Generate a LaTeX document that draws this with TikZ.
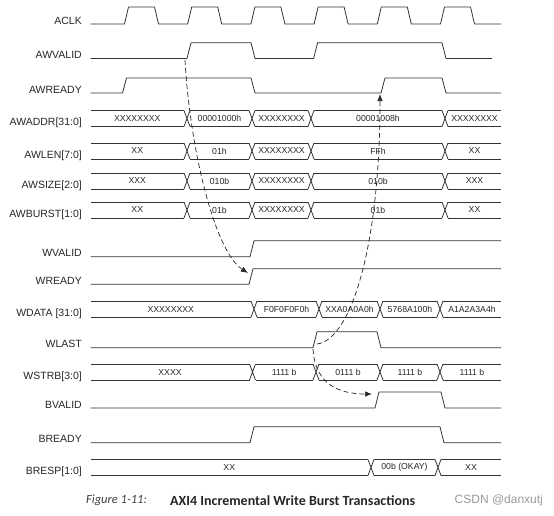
\documentclass[tikz,border=0pt]{standalone}
\usepackage{fontspec}
\setmainfont{Liberation Sans}
\newfontfamily\capfont{Carlito}
\usetikzlibrary{arrows.meta}
\begin{document}
\begin{tikzpicture}[
            x=1pt, y=-1pt,
            wave/.style={draw=black!80, line width=0.8pt, line join=round},
            sig/.style={anchor=east, inner sep=0pt, text=black!85, font=\fontsize{10.5}{12}\selectfont},
            val/.style={inner sep=0pt, text=black!85, font=\fontsize{8.7}{10}\selectfont},
            hand/.style={-{Latex[length=7pt,width=5.5pt]}, dash pattern=on 5pt off 3pt, line width=0.7pt, draw=black!85}
        ]
            \useasboundingbox (0,0) rectangle (554,515);

            % Signal names
            \foreach \n/\y/\t in {aclk/24/ACLK, awvalid/58.5/AWVALID, awready/93/AWREADY,
                awaddr/126.5/AWADDR[31:0], awlen/159/AWLEN[7:0], awsize/189/AWSIZE[2:0],
                awburst/218/AWBURST[1:0], wvalid/256.7/WVALID, wready/284.3/WREADY,
                wdata/317/WDATA [31:0], wlast/347.7/WLAST, wstrb/380/WSTRB[3:0],
                bvalid/408/BVALID, bready/442.7/BREADY, bresp/475.5/BRESP[1:0]}
                \node[sig] (lbl-\n) at (82,\y-3.5) {\t};

            % ACLK
            \draw[wave] (90.5,24) \foreach \k in {0,...,5} {
                -- ({124.5+63.2*\k},24) -- ({128.5+63.2*\k},7) -- ({154.5+63.2*\k},7) -- ({158.5+63.2*\k},24)} -- (501,24);

            % Write address handshake
            \draw[wave] (90.5,58.5) -- (187,58.5) -- (191,42.7) -- (251,42.7) -- (255,58.5) -- (313.6,58.5)
                -- (317.6,42.7) -- (442,42.7) -- (446,58.5) -- (491.8,58.5);
            \draw[wave] (90.5,93) -- (122.5,93) -- (126.5,78) -- (251,78) -- (255,93) -- (381,93)
                -- (385,78) -- (442,78) -- (446,93) -- (501,93);

            % Address channel buses
            \foreach \ty/\row/\segs in {110.5/awaddr/{87.5/187/XXXXXXXX, 187/252/00001000h, 252/311/XXXXXXXX, 311/445/00001008h, 445/504/XXXXXXXX},
                143/awlen/{87.5/187/XX, 187/252/01h, 252/311/XXXXXXXX, 311/445/FFh, 445/504/XX},
                173/awsize/{87.5/187/XXX, 187/252/010b, 252/311/XXXXXXXX, 311/445/010b, 445/504/XXX},
                202/awburst/{87.5/187/XX, 187/252/01b, 252/311/XXXXXXXX, 311/445/01b, 445/504/XX},
                301/wdata/{87.5/254/XXXXXXXX, 254/319/F0F0F0F0h, 319/380/XXA0A0A0h, 380/440/5768A100h, 440/504/A1A2A3A4h},
                364/wstrb/{87.5/252.5/XXXX, 252.5/316/1111 b, 316/380/0111 b, 380/440/1111 b, 440/504/1111 b},
                459.5/bresp/{87.5/371/XX, 371/438/00b (OKAY), 438/504/XX}}
            {
                \foreach \a/\b/\t [count=\i] in \segs {
                    \draw[wave] (\a+3,\ty) -- (\b-3,\ty) (\a+3,\ty+16) -- (\b-3,\ty+16);
                    \node[val] (\row-\i) at ({(\a+\b)/2},\ty+8) {\t};
                    \ifnum\i>1
                        \draw[wave] (\a-3,\ty) -- (\a+3,\ty+16) (\a-3,\ty+16) -- (\a+3,\ty);
                    \fi
                }
            }

            % Write data handshake
            \draw[wave] (90.5,256.7) -- (250,256.7) -- (254,240.7) -- (501,240.7);
            \draw[wave] (90.5,284.3) -- (249,284.3) -- (253,268.7) -- (501,268.7);
            \draw[wave] (90.5,347.7) -- (313,347.7) -- (317,331.8) -- (377,331.8) -- (381,347.7) -- (501,347.7);

            % Write response
            \draw[wave] (90.5,408) -- (375,408) -- (379,392) -- (441,392) -- (445,408) -- (501,408);
            \draw[wave] (90.5,442.7) -- (250,442.7) -- (254,426.7) -- (440,426.7) -- (444,442.7) -- (501,442.7);

            % Dependencies
            \coordinate (awv-rise) at (185,60);
            \coordinate (wr-rise) at (248,273);
            \coordinate (wl-rise) at (317,344);
            \coordinate (awr-rise) at (380,94);
            \coordinate (wl-low) at (313,349);
            \coordinate (bv-rise) at (372,394);
            \draw[hand] (awv-rise) .. controls (190,150) and (215,252) .. (wr-rise);
            \draw[hand] (wl-rise) .. controls (350,340) and (380,250) .. (awr-rise);
            \draw[hand] (wl-low) .. controls (315,385) and (340,394) .. (bv-rise);

            % Caption
            \node[anchor=west, inner sep=0pt, text=black!75, font=\capfont\itshape\fontsize{12.5}{14}\selectfont] (fig) at (86,500.5) {Figure 1-11:};
            \node[anchor=west, inner sep=0pt, text=black!85, font=\capfont\bfseries\fontsize{14}{16}\selectfont] (title) at (170,500.5) {AXI4 Incremental Write Burst Transactions};
            \node[anchor=west, inner sep=0pt, text=black!40, font=\fontsize{12}{14}\selectfont] (mark) at (454.5,500.5) {CSDN @danxutj};

        \end{tikzpicture}
\end{document}
